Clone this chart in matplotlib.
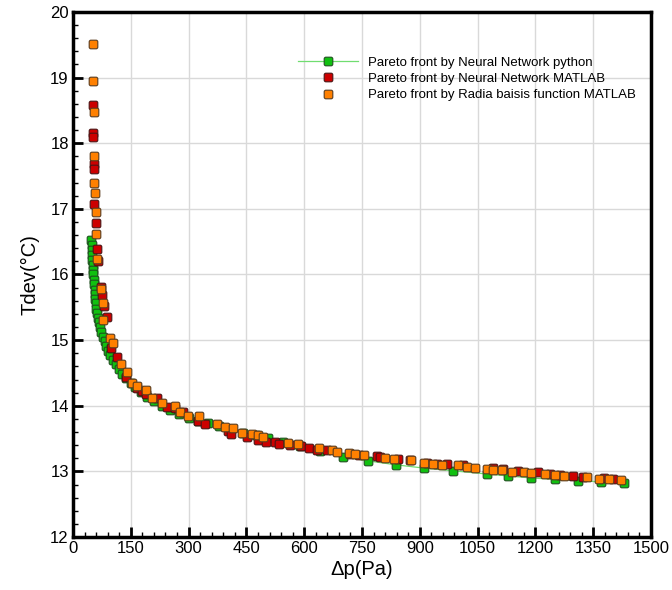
import matplotlib
matplotlib.use('Agg')
import matplotlib.pyplot as plt
from matplotlib.path import Path
from matplotlib.ticker import MultipleLocator

plt.rcParams['font.family'] = ['Liberation Sans', 'DejaVu Sans']

# Pareto front by Neural Network python
nn_py_dp = [48, 48.5, 49, 49.5, 50, 51, 52, 53, 54, 55, 56, 57, 58, 59, 61, 63, 65, 68, 71, 74,
            78, 82, 86, 91, 97, 104, 111, 119, 128, 138, 150, 162, 176, 192, 210, 230, 252, 276,
            300, 325, 350, 380, 410, 440, 475, 505, 545, 590, 640, 700, 766, 838, 911, 986,
            1074, 1130, 1188, 1250, 1310, 1370, 1430]
nn_py_t = [16.53, 16.45, 16.38, 16.30, 16.22, 16.15, 16.07, 16.00, 15.92, 15.85, 15.77, 15.70,
           15.63, 15.56, 15.48, 15.41, 15.34, 15.27, 15.20, 15.13, 15.05, 14.98, 14.91, 14.84,
           14.77, 14.70, 14.63, 14.56, 14.49, 14.42, 14.35, 14.28, 14.21, 14.14, 14.07, 14.00,
           13.93, 13.87, 13.82, 13.77, 13.74, 13.69, 13.64, 13.59, 13.55, 13.51, 13.45, 13.39,
           13.31, 13.22, 13.16, 13.10, 13.05, 13.01, 12.96, 12.93, 12.90, 12.88, 12.86, 12.84,
           12.82]

# Pareto front by Neural Network MATLAB
nn_ml_dp = [51, 53, 53, 54.5, 55.5, 55, 60, 61.5, 66, 72, 75.5, 80, 87.5, 98, 113, 138, 165,
            178, 189, 217, 244, 265, 286, 325, 342, 402, 410, 451, 480, 502, 524, 535, 563, 591,
            613, 632, 660, 720, 742, 789, 797, 843, 875, 918, 944, 970, 1012, 1090, 1116, 1155,
            1207, 1238, 1264, 1298, 1323, 1378, 1401]
nn_ml_t = [18.58, 18.15, 18.10, 17.68, 17.60, 17.07, 16.78, 16.39, 16.20, 15.81, 15.69, 15.52,
           15.35, 14.88, 14.74, 14.44, 14.27, 14.22, 14.18, 14.12, 13.98, 13.97, 13.90, 13.77,
           13.72, 13.62, 13.57, 13.52, 13.48, 13.45, 13.45, 13.42, 13.40, 13.38, 13.35, 13.33,
           13.32, 13.26, 13.25, 13.24, 13.22, 13.19, 13.18, 13.13, 13.11, 13.11, 13.10, 13.05,
           13.03, 13.01, 12.99, 12.96, 12.94, 12.93, 12.91, 12.90, 12.89]

# Pareto front by Radia baisis function MATLAB
rbf_dp = [53, 53, 54.5, 55, 55, 57, 60, 59, 61.5, 72.6, 77, 79, 96, 103, 125, 140, 152, 165,
          189, 206, 230, 265, 279, 298, 326, 373, 394, 415, 438, 464, 480, 492, 558, 584, 639,
          671, 684, 716, 732, 756, 810, 834, 876, 911, 935, 958, 1000, 1022, 1043, 1075, 1091,
          1113, 1138, 1170, 1188, 1225, 1251, 1275, 1333, 1366, 1391, 1421]
rbf_t = [19.51, 18.95, 18.47, 17.80, 17.39, 17.24, 16.95, 16.62, 16.24, 15.78, 15.57, 15.31,
         15.04, 14.95, 14.64, 14.51, 14.35, 14.30, 14.24, 14.12, 14.04, 13.99, 13.91, 13.85,
         13.85, 13.72, 13.68, 13.66, 13.59, 13.57, 13.55, 13.53, 13.43, 13.41, 13.35, 13.32,
         13.30, 13.28, 13.27, 13.25, 13.20, 13.19, 13.18, 13.13, 13.11, 13.10, 13.09, 13.07,
         13.05, 13.04, 13.02, 13.02, 12.99, 12.99, 12.97, 12.96, 12.95, 12.93, 12.91, 12.89,
         12.88, 12.87]

# rounded square marker
r = 0.4
verts = [(-1 + r, -1), (1 - r, -1), (1, -1), (1, -1 + r), (1, 1 - r), (1, 1), (1 - r, 1),
         (-1 + r, 1), (-1, 1), (-1, 1 - r), (-1, -1 + r), (-1, -1), (-1 + r, -1), (-1 + r, -1)]
codes = [Path.MOVETO, Path.LINETO, Path.CURVE3, Path.CURVE3, Path.LINETO, Path.CURVE3, Path.CURVE3,
         Path.LINETO, Path.CURVE3, Path.CURVE3, Path.LINETO, Path.CURVE3, Path.CURVE3, Path.CLOSEPOLY]
rsq = Path(verts, codes)

fig = plt.figure(figsize=(6.72, 5.90), dpi=100)
ax = fig.add_axes([0.1086, 0.0898, 0.8602, 0.8899])

ax.plot(nn_py_dp, nn_py_t, color='#70dd70', lw=0.9, marker=rsq, ms=6.2,
        mfc='#10c010', mec='#1f4f1f', mew=0.8, label='Pareto front by Neural Network python', zorder=3)
ax.plot(nn_ml_dp, nn_ml_t, ls='none', marker=rsq, ms=6.2,
        mfc='#cc0000', mec='#4a1414', mew=0.8, label='Pareto front by Neural Network MATLAB', zorder=4)
ax.plot(rbf_dp, rbf_t, ls='none', marker=rsq, ms=6.2,
        mfc='#ff8000', mec='#5a3c1e', mew=0.8, label='Pareto front by Radia baisis function MATLAB', zorder=5)

ax.set_xlim(0, 1500)
ax.set_ylim(12, 20)
ax.xaxis.set_major_locator(MultipleLocator(150))
ax.xaxis.set_minor_locator(MultipleLocator(30))
ax.yaxis.set_major_locator(MultipleLocator(1))
ax.yaxis.set_minor_locator(MultipleLocator(0.2))
ax.grid(True, which='major', color='#d9d9d9', lw=1)
ax.set_axisbelow(True)
ax.tick_params(which='major', direction='in', length=7, width=2, labelsize=12, pad=3)
ax.tick_params(which='minor', direction='in', length=3.5, width=1)
for s in ax.spines.values():
    s.set_linewidth(2.5)

ax.set_xlabel('Δp(Pa)', fontsize=14.5, labelpad=3)
ax.set_ylabel('Tdev(°C)', fontsize=14.5, labelpad=8)

leg = ax.legend(loc='upper left', bbox_to_anchor=(0.381, 0.925), frameon=False, fontsize=9.5,
                handlelength=4.5, handletextpad=0.8, labelspacing=0.3, borderaxespad=0)

fig.savefig('out.png', dpi=100)
